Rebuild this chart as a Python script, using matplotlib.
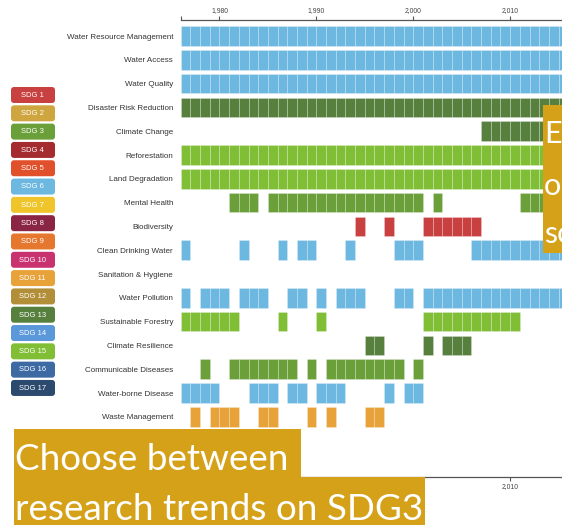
import matplotlib
matplotlib.use("Agg")
import matplotlib.pyplot as plt
from matplotlib.patches import Rectangle, FancyBboxPatch
from matplotlib.ticker import FixedLocator, FuncFormatter

# ---------------------------------------------------------------- data
categories = [
    "Water Resource Management", "Water Access", "Water Quality",
    "Disaster Risk Reduction", "Climate Change", "Reforestation",
    "Land Degradation", "Mental Health", "Biodiversity",
    "Clean Drinking Water", "Sanitation & Hygiene", "Water Pollution",
    "Sustainable Forestry", "Climate Resilience", "Communicable Diseases",
    "Water-borne Disease", "Waste Management",
]

row_sdg = [6, 6, 6, 13, 13, 15, 15, 3, 1, 6, 6, 6, 15, 13, 3, 6, 11]

# active years per topic, as inclusive (first_year, last_year) runs
row_spans = [
    [(1976, 2019)],
    [(1976, 2019)],
    [(1976, 2019)],
    [(1976, 2019)],
    [(2007, 2019)],
    [(1976, 2019)],
    [(1976, 2019)],
    [(1981, 1983), (1985, 2000), (2002, 2002), (2011, 2014)],
    [(1994, 1994), (1997, 1997), (2001, 2006)],
    [(1976, 1976), (1982, 1982), (1986, 1986), (1988, 1989), (1993, 1993),
     (1998, 2000), (2006, 2019)],
    [],
    [(1976, 1976), (1978, 1980), (1982, 1984), (1987, 1988), (1990, 1990),
     (1992, 1994), (1998, 1999), (2001, 2019)],
    [(1976, 1981), (1986, 1986), (1990, 1990), (2001, 2010)],
    [(1995, 1996), (2001, 2001), (2003, 2005)],
    [(1978, 1978), (1981, 1987), (1989, 1989), (1991, 1998), (2000, 2000)],
    [(1976, 1979), (1983, 1985), (1987, 1988), (1990, 1992), (1997, 1997),
     (1999, 2000)],
    [(1977, 1977), (1979, 1981), (1984, 1985), (1989, 1989), (1991, 1991),
     (1995, 1996)],
]

sdg_numbers = list(range(1, 18))
sdg_colors = [
    "#c8403f", "#cfa53f", "#6a9f3a", "#a42b2e", "#e0502a", "#6db8e0",
    "#efc52b", "#8a2644", "#e5772f", "#c8336f", "#e8a23a", "#b28e38",
    "#57803f", "#5a98da", "#80be36", "#3d6aa3", "#2b4a6e",
]

year_ticks = [1980, 1990, 2000, 2010]
x_start, x_end = 1976, 2015.35

title_lines = ["Choose between", "research trends on SDG3"]
side_lines = ["E", "o", "sc"]

# ---------------------------------------------------------------- layout
W, H, DPI = 562, 525, 100
fig = plt.figure(figsize=(W / DPI, H / DPI), dpi=DPI)
fig.patch.set_facecolor("white")

ax_left, ax_top, ax_bottom = 180.7, 20.0, 476.7
row_pitch, first_center = 23.8, 36.0
bar_h = 0.82

ax = fig.add_axes([ax_left / W, 1 - ax_bottom / H,
                   1 - ax_left / W, (ax_bottom - ax_top) / H])
ax.set_xlim(x_start, x_end)
ax.set_ylim((ax_bottom - first_center) / row_pitch,
            (ax_top - first_center) / row_pitch)

# yearly cells
for i, spans in enumerate(row_spans):
    color = sdg_colors[row_sdg[i] - 1]
    for first, last in spans:
        years = list(range(first, last + 1))
        ax.bar(years, bar_h, bottom=i - bar_h / 2, width=1, align="edge",
               color=color, edgecolor=(1, 1, 1, 0.25), linewidth=0.6,
               zorder=2)

# axes styling: year axis on top and bottom, topic names on the left
for side in ("left", "right"):
    ax.spines[side].set_visible(False)
for side in ("top", "bottom"):
    ax.spines[side].set_color("#555555")
    ax.spines[side].set_linewidth(0.9)

ax.xaxis.set_major_locator(FixedLocator(year_ticks))
ax.xaxis.set_minor_locator(FixedLocator([x_start]))
ax.xaxis.set_major_formatter(FuncFormatter(lambda v, p: f"{int(v):,}"))
ax.tick_params(axis="x", which="both", top=True, bottom=True,
               labeltop=True, labelbottom=True, direction="out",
               length=2.9, width=0.8, color="#555555",
               labelcolor="#444444", labelsize=4.9, pad=1.6)
for lbl in ax.get_xticklabels():
    lbl.set_family("Liberation Sans")

ax.set_yticks(range(len(categories)))
ax.set_yticklabels(categories, family="Liberation Sans", fontsize=5.8,
                   color="#333333")
ax.tick_params(axis="y", length=0, pad=5.5)
ax.set_facecolor("white")

# ---------------------------------------------------------------- overlay in pixel units
ov = fig.add_axes([0, 0, 1, 1], zorder=5)
ov.set_xlim(0, W)
ov.set_ylim(H, 0)
ov.axis("off")
ov.patch.set_alpha(0)

# SDG colour key
for k, (num, col) in enumerate(zip(sdg_numbers, sdg_colors)):
    cy = 95 + k * 18.31
    ov.add_patch(FancyBboxPatch((12.5, cy - 6.5), 41, 13,
                                boxstyle="round,pad=1.5,rounding_size=3",
                                facecolor=col, edgecolor="none"))
    ov.text(32.7, cy + 0.3, f"SDG {num}", color="white", fontsize=5.5,
            family="Liberation Sans", ha="center", va="center")

# highlight banners
gold = "#d4a118"
ov.add_patch(Rectangle((14, 429), 287, 48, facecolor=gold, edgecolor="none"))
ov.add_patch(Rectangle((14, 477), 411, 48, facecolor=gold, edgecolor="none"))
ov.add_patch(Rectangle((543, 105), 30, 148, facecolor=gold, edgecolor="none"))

ov.text(15, 470, title_lines[0], color="white", fontsize=26.6, family="Lato",
        ha="left", va="baseline")
ov.text(15, 520, title_lines[1], color="white", fontsize=26.6, family="Lato",
        ha="left", va="baseline")

for line, base in zip(side_lines, [143, 195, 243]):
    ov.text(544, base, line, color="white", fontsize=22, family="Lato",
            ha="left", va="baseline")

fig.savefig("out.png", dpi=DPI)
